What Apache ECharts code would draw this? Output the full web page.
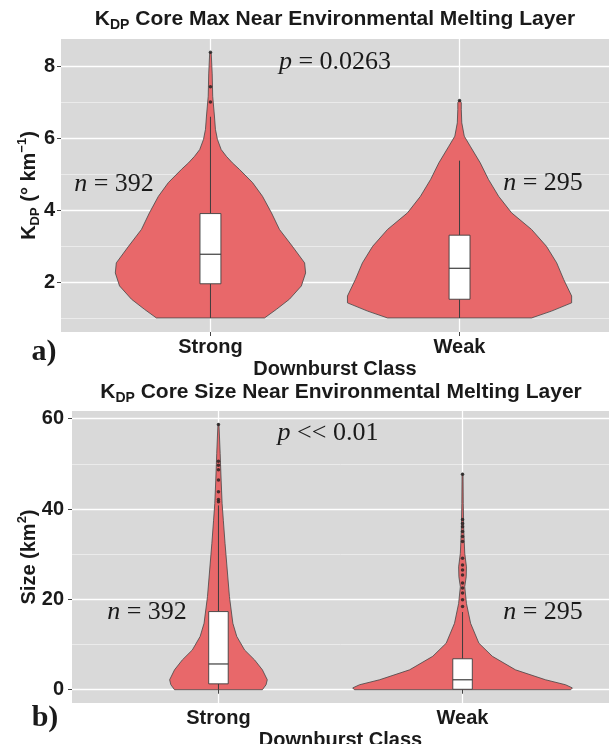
<!DOCTYPE html>
<html>
<head>
<meta charset="utf-8">
<script src="https://cdn.jsdelivr.net/npm/echarts@6.0.0/dist/echarts.min.js"></script>
<style>
html, body { margin: 0; padding: 0; background: #fff; }
#chart { width: 609px; height: 744px; }
</style>
</head>
<body>
<div id="chart"></div>
<script>
// categories on the x axis (positions 1 and 2)
const categories = ['Strong', 'Weak'];

// panel a: KDP core max, violin outline (value, half width in axis units)
const kdpStrongY = [1.02, 1.26, 1.54, 1.91, 2.27, 2.55, 3.01, 3.48, 3.94, 4.40, 4.78, 5.15, 5.33, 5.51, 5.70, 5.98, 6.26, 6.63, 7.18, 7.80, 8.40];
const kdpStrongW = [0.217, 0.265, 0.317, 0.365, 0.382, 0.378, 0.329, 0.277, 0.245, 0.209, 0.169, 0.116, 0.088, 0.064, 0.043, 0.028, 0.020, 0.016, 0.009, 0.007, 0.003];
const kdpWeakY = [1.02, 1.21, 1.44, 1.63, 2.09, 2.55, 3.01, 3.48, 3.94, 4.40, 4.87, 5.33, 5.79, 6.07, 6.44, 6.81, 7.00, 7.06];
const kdpWeakW = [0.289, 0.369, 0.450, 0.450, 0.418, 0.390, 0.349, 0.289, 0.209, 0.157, 0.116, 0.083, 0.043, 0.019, 0.009, 0.007, 0.007, 0.002];
// box stats: [low, q1, median, q3, high]
const kdpBoxStrong = [1.02, 1.97, 2.79, 3.92, 6.61];
const kdpBoxWeak = [1.02, 1.54, 2.40, 3.32, 5.39];
const kdpOutStrong = [7.02, 7.44, 8.40];
const kdpOutWeak = [7.06];

// panel b: KDP core size
const sizeStrongY = [0, 1.1, 2.2, 4.4, 6.6, 8.8, 11.8, 14.7, 20.6, 26.5, 32.4, 37.5, 41.2, 46.4, 52.3, 58.9];
const sizeStrongW = [0.180, 0.195, 0.200, 0.180, 0.148, 0.107, 0.075, 0.059, 0.045, 0.036, 0.027, 0.020, 0.015, 0.011, 0.007, 0.002];
const sizeWeakY = [0, 0.4, 1.1, 2.2, 4.4, 7.4, 10.3, 14.7, 19.1, 22.8, 25.0, 27.2, 30.2, 35.3, 41.2, 47.9];
const sizeWeakW = [0.443, 0.450, 0.422, 0.340, 0.217, 0.122, 0.067, 0.033, 0.016, 0.009, 0.015, 0.016, 0.009, 0.005, 0.003, 0.002];
const sizeBoxStrong = [0, 1.3, 5.7, 17.3, 40.8];
const sizeBoxWeak = [0, 0.1, 2.2, 6.85, 17.2];
const sizeOutStrong = [41.6, 42.1, 43.8, 46.4, 48.7, 49.7, 50.6, 58.7];
const sizeOutWeak = [18.4, 19.9, 21.4, 22.5, 23.6, 25.4, 26.5, 27.6, 29.1, 32.8, 33.9, 35.0, 36.1, 36.8, 37.7, 47.7];

// axis ticks
const kdpTicks = [2, 4, 6, 8];
const kdpMinor = [1, 3, 5, 7];
const sizeTicks = [0, 20, 40, 60];
const sizeMinor = [10, 30, 50];

const SANS = 'Liberation Sans';
const SERIF = 'Liberation Serif';
const violinFill = '#E8686A';
const darkLine = '#3d3d3d';

var chart = echarts.init(document.getElementById('chart'), null, { renderer: 'canvas' });

var richName = {
    b: { fontSize: 20, fontWeight: 'bold', fontFamily: SANS, color: '#1a1a1a', lineHeight: 26 },
    s: { fontSize: 13, fontWeight: 'bold', fontFamily: SANS, color: '#1a1a1a', lineHeight: 13, verticalAlign: 'bottom' },
    p: { fontSize: 13, fontWeight: 'bold', fontFamily: SANS, color: '#1a1a1a', lineHeight: 13, verticalAlign: 'top' }
};
var richNote = {
    i: { fontSize: 26, fontFamily: SERIF, fontStyle: 'italic', color: '#1a1a1a' },
    r: { fontSize: 26, fontFamily: SERIF, color: '#1a1a1a' }
};

function xAxisFor(gridIndex) {
    return {
        type: 'value', gridIndex: gridIndex, min: 0.4, max: 2.6,
        axisLine: { show: false },
        axisTick: { show: true, customValues: [1, 2], length: 4, lineStyle: { color: '#444', width: 1 } },
        axisLabel: {
            customValues: [1, 2], margin: 5,
            formatter: function (v) { return categories[Math.round(v) - 1]; },
            fontSize: 20, fontWeight: 'bold', fontFamily: SANS, color: '#1a1a1a'
        },
        splitLine: { show: true, lineStyle: { color: '#fff', width: 1.3 } },
        name: 'Downburst Class', nameLocation: 'middle', nameGap: 27, nameMoveOverlap: false,
        nameTextStyle: { fontSize: 20, fontWeight: 'bold', fontFamily: SANS, color: '#1a1a1a' }
    };
}

function yAxisFor(gridIndex, min, max, ticks, name, gap, margin) {
    return {
        type: 'value', gridIndex: gridIndex, min: min, max: max,
        axisLine: { show: false },
        axisTick: { show: true, customValues: ticks, length: 4, lineStyle: { color: '#444', width: 1 } },
        axisLabel: {
            customValues: ticks, margin: margin,
            fontSize: 20, fontWeight: 'bold', fontFamily: SANS, color: '#1a1a1a'
        },
        splitLine: { show: true, lineStyle: { color: '#fff', width: 1.3 } },
        name: name, nameLocation: 'middle', nameRotate: 90, nameGap: gap, nameMoveOverlap: false,
        nameTextStyle: { rich: richName }
    };
}

// extra y axis only for the thinner minor grid lines
function minorAxisFor(gridIndex, min, max, ticks) {
    return {
        type: 'value', gridIndex: gridIndex, min: min, max: max,
        axisLine: { show: false },
        axisTick: { show: false, customValues: ticks },
        axisLabel: { show: false, customValues: ticks },
        splitLine: { show: true, lineStyle: { color: '#f2f2f2', width: 0.7 } }
    };
}

function violinSeries(xIdx, yIdx, shapes) {
    return {
        type: 'custom', xAxisIndex: xIdx, yAxisIndex: yIdx, z: 2, silent: true,
        data: shapes.map(function (s, i) { return [i + 1, i]; }),
        renderItem: function (params, api) {
            var x = api.value(0);
            var s = shapes[api.value(1)];
            var right = [], left = [];
            for (var k = 0; k < s.y.length; k++) {
                right.push(api.coord([x + s.w[k], s.y[k]]));
                left.unshift(api.coord([x - s.w[k], s.y[k]]));
            }
            return {
                type: 'polygon',
                shape: { points: right.concat(left) },
                style: { fill: violinFill, stroke: '#454545', lineWidth: 0.8 }
            };
        }
    };
}

function boxSeries(xIdx, yIdx, boxes, halfW) {
    return {
        type: 'custom', xAxisIndex: xIdx, yAxisIndex: yIdx, z: 3, silent: true,
        data: boxes.map(function (b, i) { return [i + 1].concat(b); }),
        renderItem: function (params, api) {
            var x = api.value(0);
            var lo = api.value(1), q1 = api.value(2), md = api.value(3), q3 = api.value(4), hi = api.value(5);
            var pLo = api.coord([x, lo]), pQ1 = api.coord([x, q1]), pQ3 = api.coord([x, q3]), pHi = api.coord([x, hi]);
            var tl = api.coord([x - halfW, q3]), br = api.coord([x + halfW, q1]);
            var ml = api.coord([x - halfW, md]), mr = api.coord([x + halfW, md]);
            var ls = { stroke: darkLine, lineWidth: 1 };
            return {
                type: 'group',
                children: [
                    { type: 'line', shape: { x1: pLo[0], y1: pLo[1], x2: pQ1[0], y2: pQ1[1] }, style: ls },
                    { type: 'line', shape: { x1: pQ3[0], y1: pQ3[1], x2: pHi[0], y2: pHi[1] }, style: ls },
                    { type: 'rect', shape: { x: tl[0], y: tl[1], width: br[0] - tl[0], height: br[1] - tl[1] },
                      style: { fill: '#fff', stroke: darkLine, lineWidth: 0.9 } },
                    { type: 'line', shape: { x1: ml[0], y1: ml[1], x2: mr[0], y2: mr[1] }, style: { stroke: darkLine, lineWidth: 1.2 } }
                ]
            };
        }
    };
}

function outlierSeries(xIdx, yIdx, strong, weak) {
    return {
        type: 'scatter', xAxisIndex: xIdx, yAxisIndex: yIdx, z: 4, silent: true,
        symbolSize: 3.5, itemStyle: { color: '#1f1f1f' },
        data: strong.map(function (v) { return [1, v]; }).concat(weak.map(function (v) { return [2, v]; }))
    };
}

function note(text, x, y, size, font, bold) {
    return {
        type: 'text', x: x, y: y, z: 100, silent: true,
        style: {
            text: text, rich: richNote,
            fontSize: size, fontFamily: font, fontWeight: bold ? 'bold' : 'normal', fill: '#1a1a1a',
            align: 'center', verticalAlign: 'middle', textAlign: 'center', textVerticalAlign: 'middle'
        }
    };
}

var titleStyle = {
    rich: {
        b: { fontSize: 21, fontWeight: 'bold', fontFamily: SANS, color: '#1a1a1a', lineHeight: 26 },
        s: { fontSize: 14, fontWeight: 'bold', fontFamily: SANS, color: '#1a1a1a', lineHeight: 13, verticalAlign: 'bottom' }
    }
};

var option = {
    animation: false,
    backgroundColor: '#fff',
    title: [
        { text: '{b|K}{s|DP}{b| Core Max Near Environmental Melting Layer}', left: 335, top: 6, textAlign: 'center', textStyle: titleStyle, padding: 0 },
        { text: '{b|K}{s|DP}{b| Core Size Near Environmental Melting Layer}', left: 341, top: 379, textAlign: 'center', textStyle: titleStyle, padding: 0 }
    ],
    grid: [
        { left: 61, right: 0, top: 39, height: 293, show: true, backgroundColor: '#D9D9D9', borderWidth: 0, outerBoundsMode: 'none' },
        { left: 72, right: 0, top: 411, height: 292, show: true, backgroundColor: '#D9D9D9', borderWidth: 0, outerBoundsMode: 'none' }
    ],
    xAxis: [xAxisFor(0), xAxisFor(1)],
    yAxis: [
        yAxisFor(0, 0.63, 8.77, kdpTicks, '{b|K}{s|DP}{b| (° km}{p|−1}{b|)}', 19, 6),
        yAxisFor(1, -2.94, 61.7, sizeTicks, '{b|Size (km}{p|2}{b|)}', 30, 8),
        minorAxisFor(0, 0.63, 8.77, kdpMinor),
        minorAxisFor(1, -2.94, 61.7, sizeMinor)
    ],
    series: [
        violinSeries(0, 0, [{ y: kdpStrongY, w: kdpStrongW }, { y: kdpWeakY, w: kdpWeakW }]),
        boxSeries(0, 0, [kdpBoxStrong, kdpBoxWeak], 0.042),
        outlierSeries(0, 0, kdpOutStrong, kdpOutWeak),
        violinSeries(1, 1, [{ y: sizeStrongY, w: sizeStrongW }, { y: sizeWeakY, w: sizeWeakW }]),
        boxSeries(1, 1, [sizeBoxStrong, sizeBoxWeak], 0.04),
        outlierSeries(1, 1, sizeOutStrong, sizeOutWeak)
    ],
    graphic: [
        note('{i|p}{r| = 0.0263}', 335, 62, 26, SERIF),
        note('{i|n}{r| = 392}', 114, 184, 26, SERIF),
        note('{i|n}{r| = 295}', 543, 183, 26, SERIF),
        note('{i|p}{r| << 0.01}', 328, 433, 26, SERIF),
        note('{i|n}{r| = 392}', 147, 612, 26, SERIF),
        note('{i|n}{r| = 295}', 543, 612, 26, SERIF),
        note('a)', 44, 352, 30, SERIF, true),
        note('b)', 45, 718, 30, SERIF, true)
    ]
};

chart.setOption(option);
window.addEventListener('resize', chart.resize);
</script>
</body>
</html>
